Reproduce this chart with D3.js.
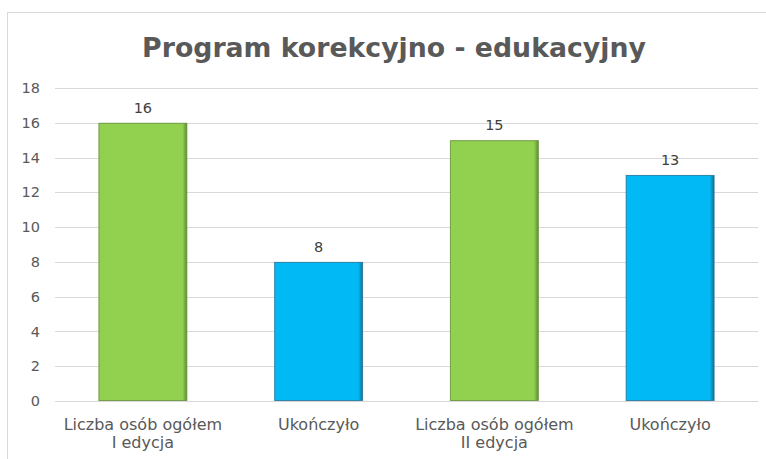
<!DOCTYPE html>
<html><head><meta charset="utf-8">
<script src="https://cdn.jsdelivr.net/npm/d3@7"></script>
<style>body{margin:0;background:#fff}svg{display:block}</style>
</head><body>
<svg id="c" width="766" height="459"></svg>
<script>
const title = "Program korekcyjno - edukacyjny";
const categories = [["Liczba osób ogółem","I edycja"],["Ukończyło"],["Liczba osób ogółem","II edycja"],["Ukończyło"]];
const values = [16, 8, 15, 13];
const barColors = ["#92D050", "#00B9F5", "#92D050", "#00B9F5"];
const edgeColors = ["#5F8C33", "#1B6F96", "#5F8C33", "#1B6F96"];
const yTicks = [0,2,4,6,8,10,12,14,16,18];

const font = "'Century Gothic','DejaVu Sans',sans-serif";
const svg = d3.select("#c");
const W = 766, H = 459;
const plot = {left:55, right:758, top:88, bottom:401};

// frame
svg.append("rect").attr("x",7.5).attr("y",12.5).attr("width",W).attr("height",H)
  .attr("fill","none").attr("stroke","#d9d9d9").attr("stroke-width",1);

const x = d3.scaleBand().domain(d3.range(categories.length)).range([plot.left, plot.right]).paddingInner(0.494).paddingOuter(0.247);
const y = d3.scaleLinear().domain([0,18]).range([plot.bottom, plot.top]);

// gridlines
svg.append("g").selectAll("line").data(yTicks).join("line")
  .attr("x1",plot.left).attr("x2",plot.right)
  .attr("y1",d=>Math.round(y(d))+0.5).attr("y2",d=>Math.round(y(d))+0.5)
  .attr("stroke","#d9d9d9").attr("stroke-width",1);

// y axis labels
const yAxis = d3.axisLeft(y).tickValues(yTicks).tickSize(0).tickPadding(0);
const ga = svg.append("g").attr("transform","translate(40,0)").call(yAxis);
ga.select(".domain").remove();
ga.selectAll("text").attr("font-family",font).attr("font-size",14.5).attr("fill","#595959");

// gradients
const defs = svg.append("defs");
barColors.forEach((c,i)=>{
  const g = defs.append("linearGradient").attr("id","g"+i).attr("x1","0").attr("x2","1").attr("y1","0").attr("y2","0");
  g.append("stop").attr("offset","0").attr("stop-color",c);
  g.append("stop").attr("offset","0.95").attr("stop-color",c);
  g.append("stop").attr("offset","1").attr("stop-color",edgeColors[i]);
});

// bars
svg.append("g").selectAll("rect").data(values).join("rect")
  .attr("x",(d,i)=>x(i)+0.5).attr("y",d=>y(d)+0.5)
  .attr("width",x.bandwidth()-1).attr("height",d=>y(0)-y(d)-1)
  .attr("fill",(d,i)=>`url(#g${i})`)
  .attr("stroke",(d,i)=>edgeColors[i]).attr("stroke-width",1).attr("stroke-opacity",0.8);

// data labels
svg.append("g").selectAll("text").data(values).join("text")
  .attr("x",(d,i)=>x(i)+x.bandwidth()/2).attr("y",d=>y(d)-10)
  .attr("text-anchor","middle").attr("font-family",font).attr("font-size",14.5).attr("fill","#404040")
  .text(d=>d);

// category labels
const cg = svg.append("g");
categories.forEach((lines,i)=>{
  const t = cg.append("text").attr("text-anchor","middle").attr("font-family",font)
    .attr("font-size",15).attr("fill","#595959");
  lines.forEach((l,j)=>{
    t.append("tspan").attr("x",x(i)+x.bandwidth()/2).attr("y",430+j*18).text(l);
  });
});
// fit font size of category labels to measured width
const probe = cg.select("tspan").node();
const w0 = probe.getComputedTextLength();
const fs = 15*170/w0;
cg.selectAll("text").attr("font-size",Math.min(16,Math.max(12,fs)));

// title
const tt = svg.append("text").attr("x",394).attr("y",57).attr("text-anchor","middle")
  .attr("font-family",font).attr("font-weight","bold").attr("font-size",26).attr("fill","#595959")
  .text(title);
const tw = tt.node().getComputedTextLength();
tt.attr("font-size", 26*504/tw);
</script>
</body></html>
